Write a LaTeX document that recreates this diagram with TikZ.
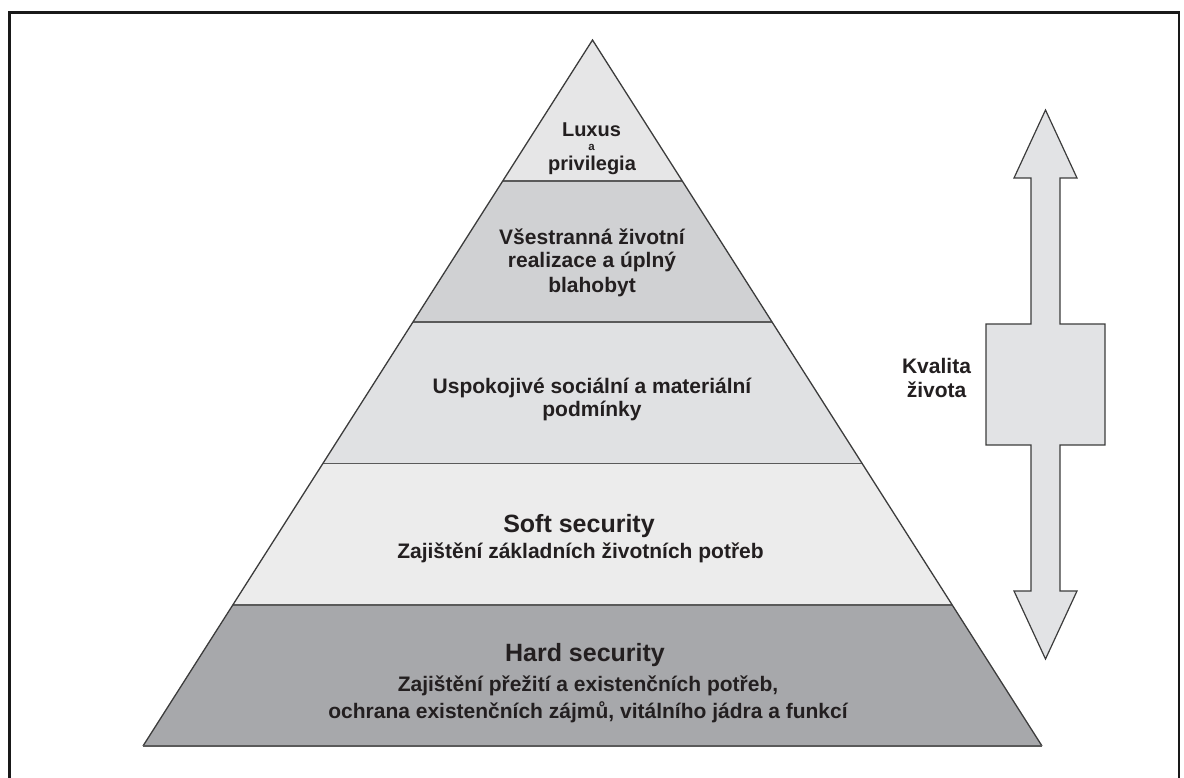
\documentclass[tikz,border=0pt]{standalone}
\usepackage{fontspec}
\setmainfont{Liberation Sans}
\definecolor{bandA}{HTML}{E6E6E7}
\definecolor{bandB}{HTML}{D0D1D3}
\definecolor{bandC}{HTML}{E0E1E3}
\definecolor{bandD}{HTML}{ECECEC}
\definecolor{bandE}{HTML}{A7A8AB}
\definecolor{arrowfill}{HTML}{E2E3E5}
\definecolor{edgec}{HTML}{3C3C3C}
\definecolor{sepc}{HTML}{5A5A5A}
\definecolor{txtc}{HTML}{231F20}
\begin{document}
\begin{tikzpicture}[x=1pt,y=-1pt,
  txt/.style={font=\fontsize{21}{24}\selectfont\bfseries, text=txtc, inner sep=0pt, anchor=base},
  headtxt/.style={txt, font=\fontsize{25}{28}\selectfont\bfseries},
  tinytxt/.style={txt, font=\fontsize{11.5}{12}\selectfont\bfseries},
  edge/.style={draw=edgec, line width=1.3pt, line join=miter},
  sepline/.style={draw=sepc, line width=1.4pt},
  frameline/.style={draw=black!90, line width=2.6pt}]
\useasboundingbox (0,0) rectangle (1184,778);
% frame
\draw[frameline] (9.5,778) -- (9.5,12.5) -- (1179,12.5) -- (1179,778);
% bands
\fill[bandA] (592.5,40) -- (682.27,181) -- (502.73,181) -- cycle;
\fill[bandB] (502.73,181) -- (682.27,181) -- (772.05,322) -- (412.95,322) -- cycle;
\fill[bandC] (412.95,322) -- (772.05,322) -- (862.14,463.5) -- (322.86,463.5) -- cycle;
\fill[bandD] (322.86,463.5) -- (862.14,463.5) -- (952.23,605) -- (232.77,605) -- cycle;
\fill[bandE] (232.77,605) -- (952.23,605) -- (1042,746) -- (143,746) -- cycle;
\draw[sepline] (502.73,181) -- (682.27,181);
\draw[sepline] (412.95,322) -- (772.05,322);
\draw[sepline] (322.86,463.5) -- (862.14,463.5);
\draw[sepline] (232.77,605) -- (952.23,605);
\draw[edge] (143,746) -- (592.5,40) -- (1042,746);
\draw[sepline] (143,746) -- (1042,746);
% double arrow
\draw[edge, fill=arrowfill, line width=1.2pt] (1045.5,110) -- (1077,178) -- (1060,178) -- (1060,324) -- (1105,324) -- (1105,445) -- (1060,445) -- (1060,591) -- (1077,591) -- (1045.5,659) -- (1014,591) -- (1031,591) -- (1031,445) -- (986,445) -- (986,324) -- (1031,324) -- (1031,178) -- (1014,178) -- cycle;
% texts
\node[txt, font=\fontsize{20}{24}\selectfont\bfseries] (luxus) at (591.5,137) {Luxus};
\node[tinytxt] (luxa) at (591.5,150.5) {a};
\node[txt, font=\fontsize{20}{24}\selectfont\bfseries] (priv) at (592,171) {privilegia};
\node[txt] (vse1) at (592,245) {Všestranná životní};
\node[txt] (vse2) at (592,268) {realizace a úplný};
\node[txt] (vse3) at (592,292) {blahobyt};
\node[txt] (usp1) at (592,393) {Uspokojivé sociální a materiální};
\node[txt] (usp2) at (592,416) {podmínky};
\node[headtxt] (soft1) at (579,532) {Soft security};
\node[txt] (soft2) at (580.5,558) {Zajištění základních životních potřeb};
\node[headtxt] (hard1) at (585,661) {Hard security};
\node[txt] (hard2) at (588,691) {Zajištění přežití a existenčních potřeb,};
\node[txt] (hard3) at (588,718) {ochrana existenčních zájmů, vitálního jádra a funkcí};
\node[txt] (kval1) at (936.5,373) {Kvalita};
\node[txt] (kval2) at (936.5,397) {života};
\end{tikzpicture}
\end{document}
